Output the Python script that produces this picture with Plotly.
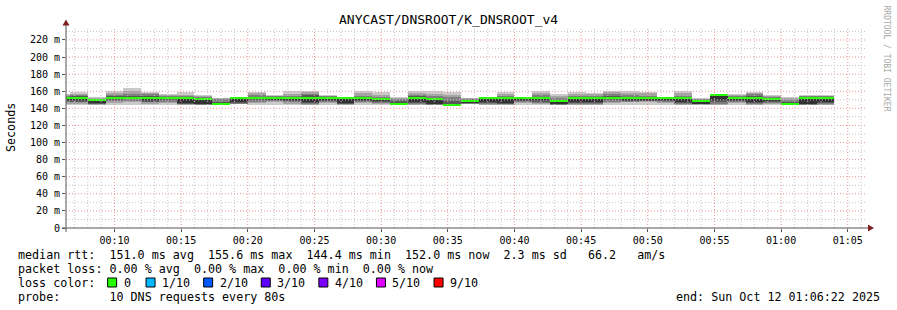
import plotly.graph_objects as go
import pandas as pd

TITLE = "ANYCAST/DNSROOT/K_DNSROOT_v4"
T_START = pd.Timestamp("2025-10-12 00:06:22")
T_END = pd.Timestamp("2025-10-12 01:06:22")
FIRST_BIN_END = pd.Timestamp("2025-10-12 00:06:40")
STEP_S = 80

# 10 sorted DNS rtt samples (ms) per 80 s bin
pings = [
    [144.0, 145.5, 147.0, 148.5, 150.5, 152.0, 153.0, 154.5, 156.0, 157.0],
    [143.9, 145.0, 147.0, 148.0, 150.5, 152.0, 154.0, 155.6, 157.0, 159.2],
    [143.9, 144.5, 145.0, 145.5, 146.5, 149.8, 150.5, 151.5, 152.2, 152.9],
    [143.9, 146.0, 148.5, 150.0, 151.5, 152.5, 154.0, 155.6, 157.5, 160.3],
    [143.9, 147.0, 149.0, 150.5, 151.5, 152.5, 155.0, 157.0, 160.0, 163.8],
    [143.9, 145.5, 147.0, 148.0, 149.5, 152.0, 155.0, 156.5, 158.0, 159.2],
    [143.9, 146.5, 148.0, 150.0, 151.0, 152.0, 153.5, 154.5, 155.8, 156.8],
    [143.9, 144.5, 145.0, 145.5, 146.0, 152.0, 153.0, 154.5, 156.0, 159.2],
    [143.9, 144.2, 144.5, 145.0, 145.5, 150.8, 152.0, 153.0, 154.5, 155.6],
    [143.9, 144.2, 144.5, 144.8, 145.0, 145.5, 147.0, 151.5, 152.0, 152.2],
    [144.8, 145.2, 145.6, 146.0, 147.0, 152.3, 152.8, 153.2, 153.4, 153.6],
    [143.9, 146.0, 148.0, 149.5, 151.0, 152.0, 153.0, 155.6, 157.5, 159.2],
    [143.9, 147.8, 148.5, 149.5, 150.5, 152.0, 153.0, 154.0, 155.0, 155.6],
    [143.9, 145.5, 147.0, 149.0, 150.5, 152.0, 153.5, 155.0, 157.0, 160.3],
    [143.9, 144.5, 145.5, 146.5, 148.0, 152.0, 155.6, 157.0, 159.0, 160.3],
    [143.9, 146.0, 147.5, 149.0, 150.5, 152.0, 153.0, 154.0, 155.0, 155.6],
    [144.0, 144.5, 145.0, 145.5, 146.5, 152.0, 152.3, 152.5, 152.8, 153.0],
    [143.9, 146.5, 147.5, 148.5, 150.0, 152.0, 153.0, 155.0, 158.5, 160.3],
    [143.9, 145.0, 146.5, 148.0, 149.5, 150.8, 152.0, 153.5, 156.0, 159.2],
    [143.9, 144.2, 144.5, 145.0, 145.2, 145.5, 148.5, 150.5, 152.0, 152.9],
    [143.9, 144.5, 145.5, 146.5, 148.0, 152.5, 154.0, 155.5, 157.5, 160.3],
    [143.9, 144.2, 144.5, 145.0, 145.5, 150.4, 152.0, 154.0, 157.0, 160.3],
    [143.9, 144.1, 144.3, 144.4, 144.4, 144.4, 149.0, 152.9, 155.6, 159.2],
    [145.0, 145.3, 145.6, 146.0, 147.0, 149.0, 150.0, 151.0, 151.8, 152.2],
    [143.9, 144.5, 145.5, 146.5, 148.0, 152.3, 152.8, 153.2, 153.5, 153.7],
    [143.9, 144.3, 144.8, 145.5, 146.5, 152.0, 153.0, 154.5, 156.5, 159.2],
    [143.9, 146.0, 147.5, 149.0, 150.5, 152.0, 152.3, 152.5, 152.7, 152.9],
    [143.9, 145.0, 146.5, 148.0, 150.0, 152.0, 153.7, 155.6, 157.5, 160.3],
    [143.9, 144.2, 144.5, 145.0, 145.5, 148.7, 150.0, 152.0, 154.5, 156.8],
    [143.9, 144.5, 145.5, 146.5, 147.5, 152.0, 153.5, 155.0, 157.0, 159.2],
    [143.9, 144.5, 145.5, 146.5, 147.5, 152.0, 153.0, 155.0, 156.5, 157.5],
    [143.9, 146.0, 148.0, 149.5, 151.0, 152.0, 155.0, 157.0, 159.5, 160.3],
    [143.9, 147.5, 148.0, 148.5, 149.5, 152.0, 153.5, 156.0, 158.5, 160.3],
    [143.9, 147.8, 148.5, 149.0, 150.0, 152.0, 153.5, 155.0, 158.0, 159.2],
    [143.9, 146.0, 147.8, 149.0, 150.5, 152.0, 152.3, 152.5, 152.8, 153.0],
    [143.9, 144.5, 145.5, 146.5, 148.0, 152.0, 153.5, 155.0, 158.0, 160.5],
    [144.0, 144.3, 144.6, 145.0, 145.5, 148.7, 149.5, 150.5, 151.5, 152.2],
    [143.9, 144.5, 145.5, 147.0, 150.0, 155.6, 155.8, 156.0, 156.2, 156.5],
    [143.9, 146.0, 147.5, 149.0, 150.5, 152.0, 153.0, 154.5, 155.6, 156.8],
    [143.9, 144.5, 145.5, 146.5, 148.0, 152.0, 155.0, 157.0, 158.5, 159.2],
    [143.9, 145.5, 146.5, 148.0, 149.5, 151.0, 152.0, 153.0, 154.5, 155.6],
    [144.0, 144.3, 144.6, 145.0, 145.2, 145.5, 148.0, 150.0, 152.0, 152.9],
    [143.9, 144.2, 144.5, 145.0, 145.5, 152.0, 153.0, 154.0, 155.0, 155.6],
    [143.9, 144.5, 145.5, 146.5, 147.5, 152.0, 153.0, 154.0, 155.0, 155.6],
]
median_rtt = [p[5] for p in pings]
loss = [0] * len(pings)

Y_MAX = 234
y_ticks = [0, 20, 40, 60, 80, 100, 120, 140, 160, 180, 200, 220]
y_tick_text = ["0"] + [f"{v} m" for v in y_ticks[1:]]
x_tick_times = list(pd.date_range("2025-10-12 00:10", "2025-10-12 01:05", freq="5min"))
x_tick_text = [t.strftime("%H:%M") for t in x_tick_times]

smoke_colors = ["#cacaca", "#a4a4a4", "#7e7e7e", "#585858", "#323232"]
loss_labels = ["0", "1/10", "2/10", "3/10", "4/10", "5/10", "9/10"]
loss_colors = ["#26ff00", "#00b8ff", "#0059ff", "#5e00ff", "#7e00ff", "#dd00ff", "#ff0000"]

stat_line1 = "median rtt:  151.0 ms avg  155.6 ms max  144.4 ms min  152.0 ms now  2.3 ms sd   66.2   am/s"
stat_line2 = "packet loss: 0.00 % avg  0.00 % max  0.00 % min  0.00 % now"
stat_line3 = "loss color:"
stat_line4 = "probe:       10 DNS requests every 80s"
end_text = "end: Sun Oct 12 01:06:22 2025"
vendor_text = "RRDTOOL / TOBI OETIKER"

# ---- geometry (pixels) ----
W, H = 897, 310
L, R, T, B = 66, 866, 28, 228
FONT = "DejaVu Sans Mono"
CW = 7.05  # monospace advance at legend font size
LFS = 11.7


def px(x):
    return (x - L) / (R - L)


def py(y):
    return (B - y) / (B - T)


def nb(s):
    return s.replace(" ", "\u00a0")


bin_ends = [FIRST_BIN_END + pd.Timedelta(seconds=STEP_S * k) for k in range(len(pings))]
centers = [e - pd.Timedelta(seconds=STEP_S / 2) for e in bin_ends]

fig = go.Figure()
for i, col in enumerate(smoke_colors):
    lo = [p[i] for p in pings]
    hi = [p[9 - i] for p in pings]
    fig.add_trace(go.Bar(
        x=centers, y=[h - l for h, l in zip(hi, lo)], base=lo,
        width=STEP_S * 1000, marker=dict(color=col, line=dict(width=0)),
        hoverinfo="skip"))

swidth = Y_MAX / (B - T)
fig.add_trace(go.Bar(
    x=centers, y=[2 * swidth] * len(median_rtt), base=[m - swidth for m in median_rtt],
    width=STEP_S * 1000,
    marker=dict(color=[loss_colors[l] for l in loss], line=dict(width=0)),
    hoverinfo="skip"))

shapes = []
GRID = "#c4c4c4"
MGRID = "#eb9595"
DASH = "1px,2px"
for v in range(10, Y_MAX, 10):
    shapes.append(dict(type="line", xref="paper", yref="y", x0=0, x1=1, y0=v, y1=v,
                       line=dict(color=MGRID if v % 20 == 0 else GRID, width=1, dash=DASH),
                       layer="above"))
for t in pd.date_range("2025-10-12 00:07", "2025-10-12 01:06", freq="1min"):
    shapes.append(dict(type="line", xref="x", yref="paper", x0=t, x1=t, y0=0, y1=1,
                       line=dict(color=MGRID if t.minute % 5 == 0 else GRID, width=1, dash=DASH),
                       layer="above"))
AXC = "#555555"
ARC = "#7f1f1f"
shapes.append(dict(type="line", xref="paper", yref="paper", x0=px(66), x1=px(66),
                   y0=py(232), y1=py(24), line=dict(color=AXC, width=1), layer="above"))
shapes.append(dict(type="line", xref="paper", yref="paper", x0=px(62), x1=px(869),
                   y0=py(228), y1=py(228), line=dict(color=AXC, width=1), layer="above"))
shapes.append(dict(type="path", xref="paper", yref="paper",
                   path=f"M {px(62.5)} {py(25.5)} L {px(69.5)} {py(25.5)} L {px(66)} {py(19.5)} Z",
                   fillcolor=ARC, line=dict(width=0), layer="above"))
shapes.append(dict(type="path", xref="paper", yref="paper",
                   path=f"M {px(868)} {py(224.5)} L {px(868)} {py(231.5)} L {px(874)} {py(228)} Z",
                   fillcolor=ARC, line=dict(width=0), layer="above"))

ann = []
ann.append(dict(text=TITLE, x=px(448.5), y=py(19), xref="paper", yref="paper", showarrow=False,
                xanchor="center", yanchor="middle", font=dict(family=FONT, size=13, color="#000")))
ann.append(dict(text="Seconds", x=px(11), y=py(127), xref="paper", yref="paper", showarrow=False,
                textangle=-90, xanchor="center", yanchor="middle",
                font=dict(family=FONT, size=LFS, color="#000")))
ann.append(dict(text=nb(vendor_text), x=px(886.5), y=py(58), xref="paper", yref="paper",
                showarrow=False, textangle=90, xanchor="center", yanchor="middle",
                font=dict(family=FONT, size=8, color="#a8a8a8")))
for txt, yy in [(stat_line1, 254.5), (stat_line2, 268.5), (stat_line3, 282.5), (stat_line4, 296.5)]:
    ann.append(dict(text=nb(txt), x=px(16), y=py(yy), xref="paper", yref="paper", showarrow=False,
                    xanchor="left", yanchor="middle", font=dict(family=FONT, size=LFS, color="#000")))
ann.append(dict(text=nb(end_text), x=px(882), y=py(296.5), xref="paper", yref="paper",
                showarrow=False, xanchor="right", yanchor="middle",
                font=dict(family=FONT, size=LFS, color="#000")))

bx = 16 + 13 * CW
for lab, col in zip(loss_labels, loss_colors):
    shapes.append(dict(type="rect", xref="paper", yref="paper", x0=px(bx), x1=px(bx + 9),
                       y0=py(287), y1=py(278), fillcolor=col, line=dict(color="#000", width=1),
                       layer="above"))
    ann.append(dict(text=lab, x=px(bx + 14), y=py(282.5), xref="paper", yref="paper",
                    showarrow=False, xanchor="left", yanchor="middle",
                    font=dict(family=FONT, size=LFS, color="#000")))
    bx += 32 + 6.4 * len(lab)

fig.update_layout(
    width=W, height=H, margin=dict(l=L, r=W - R, t=T, b=H - B),
    paper_bgcolor="#ffffff", plot_bgcolor="#ffffff",
    barmode="overlay", showlegend=False, bargap=0,
    shapes=shapes, annotations=ann,
    xaxis=dict(type="date", range=[T_START, T_END], showgrid=False, zeroline=False,
               tickmode="array", tickvals=x_tick_times, ticktext=x_tick_text,
               ticks="outside", ticklen=3, tickcolor=AXC, showline=False,
               tickfont=dict(family=FONT, size=10, color="#000"), fixedrange=True),
    yaxis=dict(range=[0, Y_MAX], showgrid=False, zeroline=False,
               tickmode="array", tickvals=y_ticks, ticktext=y_tick_text,
               ticks="outside", ticklen=3, tickcolor=AXC, showline=False,
               tickfont=dict(family=FONT, size=10, color="#000"), fixedrange=True),
)

fig.write_html("out.html")
